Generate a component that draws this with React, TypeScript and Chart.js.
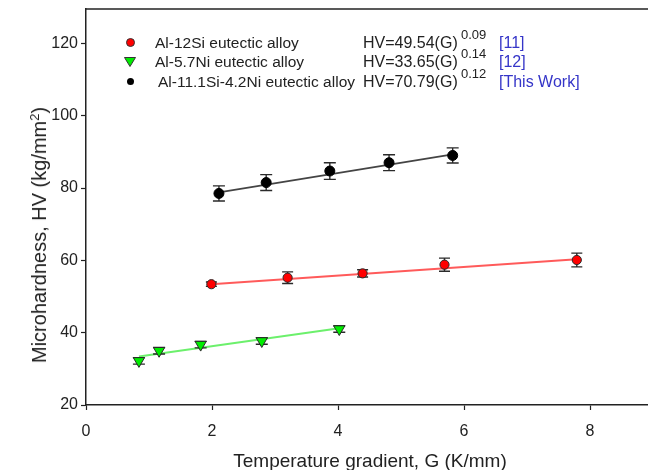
import React, { useEffect, useRef } from "react";
import { Chart, registerables } from "chart.js";

Chart.register(...registerables);

// ---- data ----
const xTickValues = [0, 2, 4, 6, 8];
const yTickValues = [20, 40, 60, 80, 100, 120];

const siG = [1.99, 3.2, 4.39, 5.69, 7.79];
const siHV = [53.4, 55.2, 56.4, 58.8, 60.1];
const siErr = [0.6, 1.6, 1.0, 1.8, 1.9];

const niG = [0.84, 1.16, 1.82, 2.79, 4.02];
const niHV = [32.2, 35.0, 36.7, 37.7, 41.0];
const niErr = [0.9, 0.9, 0.9, 0.9, 0.9];

const siniG = [2.11, 2.86, 3.87, 4.81, 5.82];
const siniHV = [78.5, 81.5, 84.7, 87.0, 89.0];
const siniErr = [2.1, 2.2, 2.3, 2.2, 2.1];

const siFitG = [1.99, 7.79];
const siFitHV = [53.4, 60.3];
const niFitG = [0.84, 4.02];
const niFitHV = [33.4, 41.2];
const siniFitG = [2.11, 5.82];
const siniFitHV = [78.8, 89.3];

const legendNames = ["Al-12Si eutectic alloy", "Al-5.7Ni eutectic alloy", "Al-11.1Si-4.2Ni eutectic alloy"];
const legendEq = ["HV=49.54(G)", "HV=33.65(G)", "HV=70.79(G)"];
const legendExp = ["0.09", "0.14", "0.12"];
const legendRef = ["[11]", "[12]", "[This Work]"];

const FONT = "'Liberation Sans', Arial, Helvetica, sans-serif";

const pts = (xs: number[], ys: number[]) => xs.map((x, i) => ({ x, y: ys[i] }));

const errorBarPlugin = {
  id: "errbars",
  beforeDatasetDraw(chart: any, args: any) {
    const ds = chart.data.datasets[args.index];
    if (!ds.errors) return;
    const ctx = chart.ctx;
    const ys = chart.scales.y;
    ctx.save();
    ctx.strokeStyle = "#2a2a2a";
    ctx.lineWidth = 1.4;
    args.meta.data.forEach((el: any, i: number) => {
      const v = ds.data[i].y;
      const e = ds.errors[i];
      const x = el.x;
      const y1 = ys.getPixelForValue(v + e);
      const y2 = ys.getPixelForValue(v - e);
      const cw = ds.capHalf || 6;
      ctx.beginPath();
      ctx.moveTo(x, y1);
      ctx.lineTo(x, y2);
      ctx.moveTo(x - cw, y1);
      ctx.lineTo(x + cw, y1);
      ctx.moveTo(x - cw, y2);
      ctx.lineTo(x + cw, y2);
      ctx.stroke();
    });
    ctx.restore();
  },
};

const framePlugin = {
  id: "frame",
  afterDraw(chart: any) {
    const { ctx, chartArea } = chart;
    ctx.save();
    ctx.strokeStyle = "#222";
    ctx.lineWidth = 1.5;
    ctx.beginPath();
    ctx.moveTo(chartArea.left, chartArea.top);
    ctx.lineTo(chartArea.right + 2, chartArea.top);
    ctx.stroke();
    ctx.restore();
  },
};

export default function App() {
  const ref = useRef<HTMLCanvasElement | null>(null);

  useEffect(() => {
    if (!ref.current) return;
    const chart = new Chart(ref.current, {
      type: "scatter",
      data: {
        datasets: [
          {
            type: "line",
            data: pts(siniFitG, siniFitHV),
            borderColor: "#444",
            borderWidth: 1.6,
            pointRadius: 0,
            showLine: true,
            order: 10,
          } as any,
          {
            type: "line",
            data: pts(siFitG, siFitHV),
            borderColor: "#ff5a5a",
            borderWidth: 2,
            pointRadius: 0,
            showLine: true,
            order: 10,
          } as any,
          {
            type: "line",
            data: pts(niFitG, niFitHV),
            borderColor: "#6cf06c",
            borderWidth: 2,
            pointRadius: 0,
            showLine: true,
            order: 10,
          } as any,
          {
            data: pts(siniG, siniHV),
            errors: siniErr,
            capHalf: 6,
            backgroundColor: "#000",
            borderColor: "#000",
            borderWidth: 1,
            pointRadius: 5,
            order: 1,
          } as any,
          {
            data: pts(siG, siHV),
            errors: siErr,
            capHalf: 5.5,
            backgroundColor: "#ff0000",
            borderColor: "#2a2a2a",
            borderWidth: 1,
            pointRadius: 4.6,
            order: 2,
          } as any,
          {
            data: pts(niG, niHV),
            errors: niErr,
            capHalf: 6,
            backgroundColor: "#00ee00",
            borderColor: "#2a2a2a",
            borderWidth: 1,
            pointStyle: "triangle",
            rotation: 180,
            pointRadius: 6.5,
            order: 3,
          } as any,
        ],
      },
      options: {
        animation: false,
        responsive: false,
        devicePixelRatio: 1,
        layout: { autoPadding: false, padding: { top: 9, right: 0, left: 0, bottom: 0 } },
        plugins: { legend: { display: false }, tooltip: { enabled: false } },
        scales: {
          x: {
            type: "linear",
            min: 0,
            max: 8.92,
            afterBuildTicks: (s: any) => {
              s.ticks = xTickValues.map((v) => ({ value: v }));
            },
            afterFit: (s: any) => {
              s.height = 65;
              s.paddingLeft = 0;
              s.paddingRight = 0;
            },
            ticks: { font: { family: FONT, size: 16 }, color: "#222", padding: 12, maxRotation: 0 },
            grid: { drawOnChartArea: false, drawTicks: true, tickLength: 5, color: "#222", tickWidth: 1.2 },
            border: { display: true, color: "#222", width: 1.5 },
          },
          y: {
            type: "linear",
            min: 20,
            max: 129.5,
            afterBuildTicks: (s: any) => {
              s.ticks = yTickValues.map((v) => ({ value: v }));
            },
            afterFit: (s: any) => {
              s.width = 86;
              s.paddingTop = 0;
              s.paddingBottom = 0;
            },
            ticks: { font: { family: FONT, size: 16 }, color: "#222", padding: 3 },
            grid: { drawOnChartArea: false, drawTicks: true, tickLength: 5, color: "#222", tickWidth: 1.2 },
            border: { display: true, color: "#222", width: 1.5 },
          },
        },
      } as any,
      plugins: [errorBarPlugin, framePlugin],
    });
    return () => chart.destroy();
  }, []);

  const rowY = [42.7, 61.7, 81.7];
  const textStyle: React.CSSProperties = {
    position: "absolute",
    fontFamily: FONT,
    fontSize: 16,
    color: "#222",
    whiteSpace: "nowrap",
    lineHeight: "18px",
  };

  const marker = (i: number) => {
    if (i === 0)
      return (
        <div style={{ position: "absolute", left: 125.5, top: rowY[0] - 4.5, width: 9, height: 9, borderRadius: "50%", background: "#ff0000", border: "1px solid #333", boxSizing: "border-box" }} />
      );
    if (i === 1)
      return (
        <svg style={{ position: "absolute", left: 124, top: rowY[1] - 5 }} width={12} height={10}>
          <polygon points="0.5,0.5 11.5,0.5 6,9.5" fill="#00ee00" stroke="#333" strokeWidth={1} />
        </svg>
      );
    return <div style={{ position: "absolute", left: 127, top: rowY[2] - 3.5, width: 7, height: 7, borderRadius: "50%", background: "#000" }} />;
  };

  return (
    <div style={{ position: "fixed", left: 0, top: 0, width: 648, height: 470, background: "#fff", overflow: "hidden" }}>
      <canvas ref={ref} width={648} height={470} style={{ position: "absolute", left: 0, top: 0, width: 648, height: 470 }} />
      {legendNames.map((name, i) => (
        <React.Fragment key={name}>
          {marker(i)}
          <div style={{ ...textStyle, fontSize: 15.5, left: i === 2 ? 158 : 155, top: rowY[i] - 9 }}>{name}</div>
          <div style={{ ...textStyle, left: 363, top: rowY[i] - 9 }}>{legendEq[i]}</div>
          <div style={{ ...textStyle, left: 461, top: rowY[i] - 16, fontSize: 13, lineHeight: "16px" }}>{legendExp[i]}</div>
          <div style={{ ...textStyle, left: 499, top: rowY[i] - 9, color: "#3535c8" }}>{legendRef[i]}</div>
        </React.Fragment>
      ))}
      <div style={{ ...textStyle, fontSize: 19, left: 0, width: 740, textAlign: "center", top: 450, lineHeight: "22px" }}>
        Temperature gradient, G (K/mm)
      </div>
      <div
        style={{
          ...textStyle,
          fontSize: 20,
          lineHeight: "22px",
          left: 39,
          top: 235,
          transform: "translate(-50%, -50%) rotate(-90deg)",
        }}
      >
        Microhardness, HV (kg/mm<sup style={{ fontSize: 13, verticalAlign: "7px", lineHeight: 0 }}>2</sup>)
      </div>
    </div>
  );
}
